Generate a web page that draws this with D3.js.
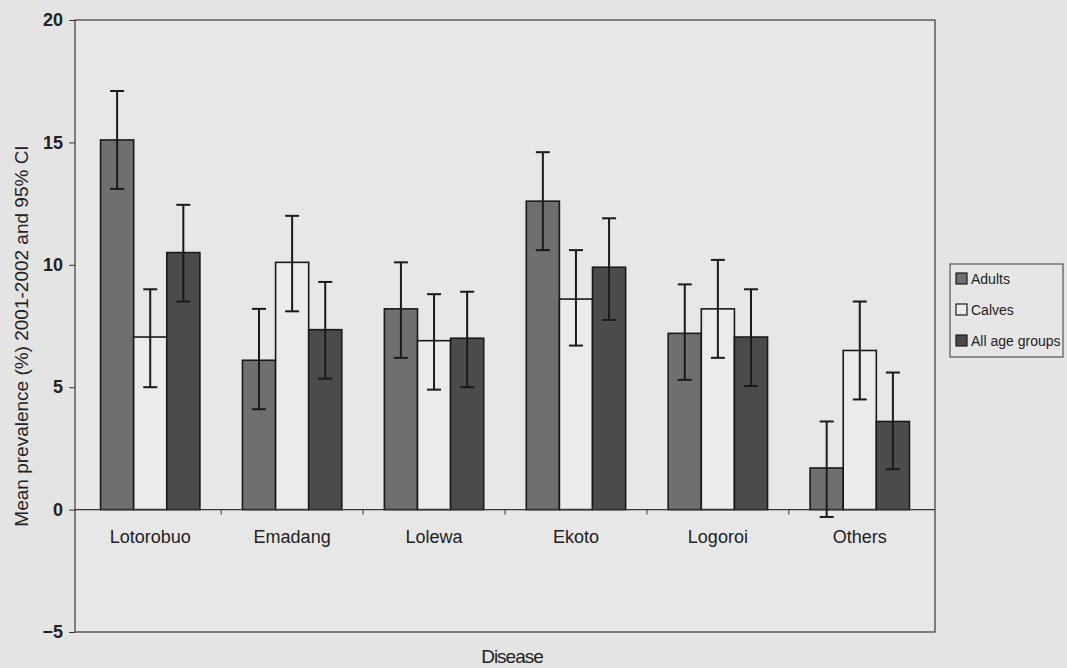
<!DOCTYPE html>
<html>
<head>
<meta charset="utf-8">
<script src="https://cdn.jsdelivr.net/npm/d3@7"></script>
<style>
  body { margin: 0; background: #e4e4e4; }
  svg { display: block; font-family: "Liberation Sans", Arial, sans-serif; }
</style>
</head>
<body>
<svg width="1067" height="668"></svg>
<script>
// chart data
var categories = ["Lotorobuo", "Emadang", "Lolewa", "Ekoto", "Logoroi", "Others"];
var seriesNames = ["Adults", "Calves", "All age groups"];

var adults = [15.1, 6.1, 8.2, 12.6, 7.2, 1.7];
var adultsLow = [13.1, 4.1, 6.2, 10.6, 5.3, -0.3];
var adultsHigh = [17.1, 8.2, 10.1, 14.6, 9.2, 3.6];

var calves = [7.05, 10.1, 6.9, 8.6, 8.2, 6.5];
var calvesLow = [5.0, 8.1, 4.9, 6.7, 6.2, 4.5];
var calvesHigh = [9.0, 12.0, 8.8, 10.6, 10.2, 8.5];

var allAges = [10.5, 7.35, 7.0, 9.9, 7.05, 3.6];
var allLow = [8.5, 5.35, 5.0, 7.75, 5.05, 1.65];
var allHigh = [12.45, 9.3, 8.9, 11.9, 9.0, 5.6];

var yTicks = [-5, 0, 5, 10, 15, 20];

var fills = ["#6f6f6f", "#ebebeb", "#4b4b4b"];

// build rows for drawing
var series = [
  { name: seriesNames[0], v: adults, lo: adultsLow, hi: adultsHigh },
  { name: seriesNames[1], v: calves, lo: calvesLow, hi: calvesHigh },
  { name: seriesNames[2], v: allAges, lo: allLow, hi: allHigh }
];
var rows = [];
categories.forEach(function(c, i) {
  series.forEach(function(s, j) {
    rows.push({ cat: c, key: s.name, idx: j, value: s.v[i], lo: s.lo[i], hi: s.hi[i] });
  });
});

// define margins and canvas
var svg = d3.select("svg"),
  margin = { top: 20, right: 132, bottom: 36, left: 75 },
  width = svg.attr("width") - margin.left - margin.right,
  height = svg.attr("height") - margin.top - margin.bottom,
  g = svg.append("g").attr("transform", "translate(" + margin.left + "," + margin.top + ")");

// scales
var x0 = d3.scaleBand().domain(categories).range([0, width]).paddingInner(0.3).paddingOuter(0.18);
var x1 = d3.scaleBand().domain(seriesNames).range([0, x0.bandwidth()]);
var y = d3.scaleLinear().domain([-5, 20]).range([height, 0]);

// plot area
g.append("rect")
  .attr("width", width)
  .attr("height", height)
  .attr("fill", "#e7e7e7")
  .attr("stroke", "#3a3a3a")
  .attr("stroke-width", 1.2);

// y axis
var yAxis = g.append("g")
  .call(d3.axisLeft(y).tickValues(yTicks).tickSize(6).tickPadding(6));
yAxis.select(".domain").remove();
yAxis.selectAll("line").attr("stroke", "#333");
yAxis.selectAll("text")
  .attr("fill", "#222")
  .style("font-size", "18px")
  .style("font-weight", "bold");

// bars
g.append("g").selectAll("rect")
  .data(rows)
  .enter().append("rect")
  .attr("x", function(d) { return x0(d.cat) + x1(d.key); })
  .attr("y", function(d) { return y(Math.max(0, d.value)); })
  .attr("width", x1.bandwidth())
  .attr("height", function(d) { return Math.abs(y(d.value) - y(0)); })
  .attr("fill", function(d) { return fills[d.idx]; })
  .attr("stroke", "#1a1a1a")
  .attr("stroke-width", 1.6);

// zero line with category ticks
var xAxis = g.append("g")
  .attr("transform", "translate(0," + y(0) + ")");
xAxis.append("line")
  .attr("x1", 0).attr("x2", width)
  .attr("stroke", "#333").attr("stroke-width", 1.2);
xAxis.selectAll(".sep")
  .data(categories.slice(1))
  .enter().append("line")
  .attr("class", "sep")
  .attr("x1", function(d) { return x0(d) - x0.step() * x0.paddingInner() / 2; })
  .attr("x2", function(d) { return x0(d) - x0.step() * x0.paddingInner() / 2; })
  .attr("y1", 0).attr("y2", 5)
  .attr("stroke", "#333");
xAxis.selectAll(".cat")
  .data(categories)
  .enter().append("text")
  .attr("class", "cat")
  .attr("x", function(d) { return x0(d) + x0.bandwidth() / 2; })
  .attr("y", 33)
  .attr("text-anchor", "middle")
  .attr("fill", "#222")
  .style("font-size", "18px")
  .text(function(d) { return d; });

// error bars
var capW = 7;
var err = g.append("g").attr("stroke", "#1a1a1a").attr("stroke-width", 2);
rows.forEach(function(d) {
  var cx = x0(d.cat) + x1(d.key) + x1.bandwidth() / 2;
  err.append("line").attr("x1", cx).attr("x2", cx).attr("y1", y(d.hi)).attr("y2", y(d.lo));
  err.append("line").attr("x1", cx - capW).attr("x2", cx + capW).attr("y1", y(d.hi)).attr("y2", y(d.hi));
  err.append("line").attr("x1", cx - capW).attr("x2", cx + capW).attr("y1", y(d.lo)).attr("y2", y(d.lo));
});

// axis titles
svg.append("text")
  .attr("transform", "translate(28," + (margin.top + height / 2 + 10) + ") rotate(-90)")
  .attr("text-anchor", "middle")
  .attr("fill", "#222")
  .style("font-size", "19px")
  .text("Mean prevalence (%) 2001-2002 and 95% CI");

svg.append("text")
  .attr("x", 512)
  .attr("y", 663)
  .attr("text-anchor", "middle")
  .attr("fill", "#222")
  .style("font-size", "19px")
  .style("letter-spacing", "-1px")
  .text("Disease");

// legend (sized so the longest label stays inside the window)
var legend = svg.append("g").attr("transform", "translate(950,264)");
legend.append("rect")
  .attr("width", 113).attr("height", 93)
  .attr("fill", "#e6e6e6")
  .attr("stroke", "#555").attr("stroke-width", 1.2);
seriesNames.forEach(function(name, i) {
  var row = legend.append("g").attr("transform", "translate(6," + (15 + i * 31) + ")");
  row.append("rect")
    .attr("x", 0).attr("y", -6)
    .attr("width", 11).attr("height", 11)
    .attr("fill", fills[i])
    .attr("stroke", "#1a1a1a").attr("stroke-width", 1.2);
  row.append("text")
    .attr("x", 15).attr("y", 5)
    .attr("fill", "#222")
    .style("font-size", "14px")
    .text(name);
});
</script>
</body>
</html>
